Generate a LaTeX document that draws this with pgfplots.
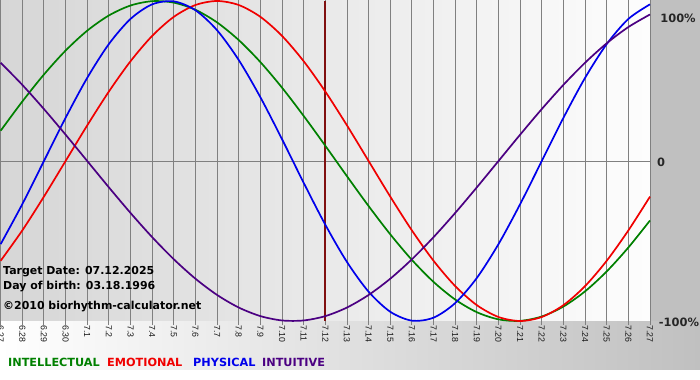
\documentclass[border=0pt]{standalone}
\usepackage{pgfplots}
\usepackage{pgfplotstable}
\pgfplotsset{compat=1.18}
\usepackage{fontspec}
\setmainfont{DejaVu Sans}
\newfontfamily\tickfont{Liberation Sans}
\definecolor{cIntel}{RGB}{0,128,0}
\definecolor{cEmo}{RGB}{240,0,0}
\definecolor{cPhys}{RGB}{0,0,235}
\definecolor{cIntu}{RGB}{75,0,130}
\definecolor{cMark}{RGB}{128,16,16}
\definecolor{cGrid}{RGB}{128,128,128}
\definecolor{cPlotL}{RGB}{214,214,214}
\definecolor{cPlotR}{RGB}{253,253,253}
\definecolor{cMargin}{RGB}{192,192,192}

\pgfplotstableread{
d phy emo itl itu
0 -0.5196 -0.6235 0.1893 0.6142
1 -0.2698 -0.4339 0.3717 0.4759
2 0 -0.2225 0.5406 0.3247
3 0.2698 0 0.6901 0.1646
4 0.5196 0.2225 0.8146 0
5 0.7308 0.4339 0.9096 -0.1646
6 0.8879 0.6235 0.9718 -0.3247
7 0.9791 0.7818 0.9989 -0.4759
8 0.9977 0.9010 0.9898 -0.6142
9 0.9423 0.9749 0.9450 -0.7357
10 0.8170 1 0.8660 -0.8372
11 0.6311 0.9749 0.7557 -0.9158
12 0.3984 0.9010 0.6182 -0.9694
13 0.1362 0.7818 0.4582 -0.9966
14 -0.1362 0.6235 0.2817 -0.9966
15 -0.3984 0.4339 0.0951 -0.9694
16 -0.6311 0.2225 -0.0951 -0.9158
17 -0.8170 0 -0.2817 -0.8372
18 -0.9423 -0.2225 -0.4582 -0.7357
19 -0.9977 -0.4339 -0.6182 -0.6142
20 -0.9791 -0.6235 -0.7557 -0.4759
21 -0.8879 -0.7818 -0.8660 -0.3247
22 -0.7308 -0.9010 -0.9450 -0.1646
23 -0.5196 -0.9749 -0.9898 0
24 -0.2698 -1 -0.9989 0.1646
25 0 -0.9749 -0.9718 0.3247
26 0.2698 -0.9010 -0.9096 0.4759
27 0.5196 -0.7818 -0.8146 0.6142
28 0.7308 -0.6235 -0.6901 0.7357
29 0.8879 -0.4339 -0.5406 0.8372
30 0.9791 -0.2225 -0.3717 0.9158
}\bio

\begin{document}
\begin{tikzpicture}
\useasboundingbox (0bp,0bp) rectangle (700bp,380bp);
\fill[white] (0bp,0bp) rectangle (700bp,380bp);
\shade[left color=white, right color=cMargin] (0bp,10bp) rectangle (700bp,59bp);
\fill[cMargin] (650bp,59bp) rectangle (700bp,380bp);
\shade[left color=cPlotL, right color=cPlotR] (0bp,59bp) rectangle (650bp,380bp);
\begin{axis}[
  at={(0bp,59bp)}, anchor=south west,
  scale only axis, width=650bp, height=320bp,
  xmin=-0.03, xmax=30, ymin=-1, ymax=1,
  axis line style={draw=none},
  xtick={0,...,30},
  xticklabels={6.27,6.28,6.29,6.30,7.1,7.2,7.3,7.4,7.5,7.6,7.7,7.8,7.9,7.10,7.11,7.12,7.13,7.14,7.15,7.16,7.17,7.18,7.19,7.20,7.21,7.22,7.23,7.24,7.25,7.26,7.27},
  xticklabel style={rotate=-90, anchor=west, font=\tickfont\fontsize{8.8}{9}\selectfont, text=black!90, inner sep=0.5bp, xshift=-0.5bp},
  tick align=outside, major tick length=4bp,
  xtick style={draw=cGrid, line width=0.9bp},
  ytick={0}, yticklabels={}, ytick style={draw=none},
  xmajorgrids, ymajorgrids,
  major grid style={draw=cGrid, line width=0.9bp},
  clip=false,
  /pgf/number format/assume math mode=true,
]
\addplot[cMark, line width=1.9bp] coordinates {(15,-1) (15,1)};
\addplot[cIntel, line width=1.7bp, smooth] table[x=d, y=itl] {\bio};
\addplot[cEmo, line width=1.7bp, smooth] table[x=d, y=emo] {\bio};
\addplot[cPhys, line width=1.7bp, smooth] table[x=d, y=phy] {\bio};
\addplot[cIntu, line width=1.7bp, smooth] table[x=d, y=itu] {\bio};
\end{axis}
\begin{scope}[every node/.style={inner sep=0pt, font=\bfseries\fontsize{11}{12}\selectfont}]
\node[anchor=west] at (3bp,108bp) {Target Date: 07.12.2025};
\node[anchor=west] at (3bp,93bp) {Day of birth: 03.18.1996};
\node[anchor=west] at (3bp,73bp) {©2010 biorhythm-calculator.net};
\end{scope}
\begin{scope}[every node/.style={inner sep=0pt, font=\bfseries\fontsize{11.5}{12}\selectfont, text=black!85}]
\node at (678bp,362bp) {100\%};
\node at (661bp,218bp) {0};
\node at (679bp,58bp) {-100\%};
\end{scope}
\begin{scope}[every node/.style={inner sep=0pt, anchor=west, font=\bfseries\fontsize{11.3}{12}\selectfont}]
\node[text=cIntel] at (8bp,18bp) {INTELLECTUAL};
\node[text=cEmo] at (107bp,18bp) {EMOTIONAL};
\node[text=cPhys] at (193bp,18bp) {PHYSICAL};
\node[text=cIntu] at (262bp,18bp) {INTUITIVE};
\end{scope}
\end{tikzpicture}
\end{document}
